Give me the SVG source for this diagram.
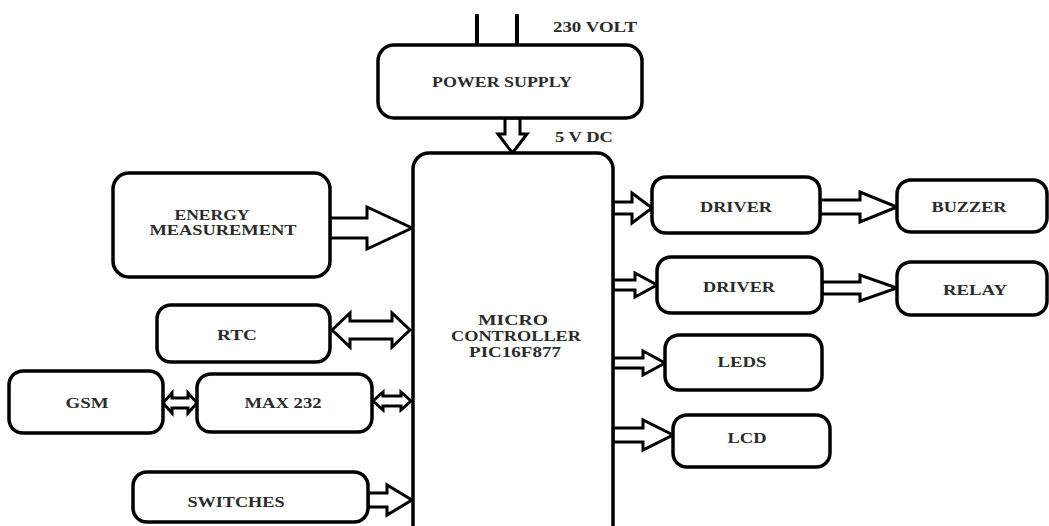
<svg xmlns="http://www.w3.org/2000/svg" width="1049" height="526" viewBox="0 0 1049 526">
<style>
.box{fill:#fff;stroke:#000;stroke-width:3.5}
.arr{fill:#fff;stroke:#000;stroke-width:3;stroke-linejoin:miter}
.lbl{font-family:"Liberation Serif","Times New Roman",serif;font-weight:bold;font-size:14px;fill:#2b2b2b;text-anchor:middle}
.lbl2{font-family:"Liberation Serif","Times New Roman",serif;font-weight:bold;font-size:14px;fill:#2b2b2b}
</style>
<rect width="1049" height="526" fill="#fff"/>
<g id="connectors">
<line x1="477" y1="14" x2="477" y2="46" stroke="#000" stroke-width="4"/>
<line x1="517" y1="14" x2="517" y2="46" stroke="#000" stroke-width="4"/>
<polygon class="arr" points="505,118 520,118 520,134 527,134 512.5,153 498,134 505,134"/>
<polygon class="arr" points="330,218 367,218 367,207 412,228 367,249 367,238 330,238"/>
<polygon class="arr" points="368,493 387,493 387,485 412,500 387,515 387,507 368,507"/>
<polygon class="arr" points="332,330 350,313 350,321 392,321 392,313 410,330 392,347 392,339 350,339 350,347"/>
<polygon class="arr" points="163,403 172,393 172,398 188,398 188,393 197,403 188,413 188,408 172,408 172,413"/>
<polygon class="arr" points="373,401 383,392 383,396 401,396 401,392 411,401 401,410 401,406 383,406 383,410"/>
<polygon class="arr" points="613,202 632,202 632,193 652,208 632,223 632,214 613,214"/>
<polygon class="arr" points="820,200 860,200 860,192 897,207 860,222 860,214 820,214"/>
<polygon class="arr" points="613,280 635,280 635,273 657,285 635,297 635,290 613,290"/>
<polygon class="arr" points="822,282 860,282 860,275 897,288 860,301 860,294 822,294"/>
<polygon class="arr" points="613,358 643,358 643,351 665,363 643,375 643,368 613,368"/>
<polygon class="arr" points="613,428 643,428 643,420 673,435 643,450 643,442 613,442"/>
<text class="lbl2" x="553" y="32" textLength="84" lengthAdjust="spacingAndGlyphs">230 VOLT</text>
<text class="lbl2" x="555" y="142" textLength="58" lengthAdjust="spacingAndGlyphs">5 V DC</text>
</g>
<g id="power-supply">
<rect class="box" x="378" y="45" width="264" height="73" rx="16"/>
<text class="lbl" x="502" y="87" textLength="140" lengthAdjust="spacingAndGlyphs">POWER SUPPLY</text>
</g>
<g id="microcontroller">
<rect class="box" x="413" y="153" width="200" height="420" rx="16"/>
<text class="lbl" x="513" y="325" textLength="70" lengthAdjust="spacingAndGlyphs">MICRO</text>
<text class="lbl" x="516" y="341" textLength="130" lengthAdjust="spacingAndGlyphs">CONTROLLER</text>
<text class="lbl" x="515" y="357" textLength="92" lengthAdjust="spacingAndGlyphs">PIC16F877</text>
</g>
<g id="energy-measurement">
<rect class="box" x="113" y="173" width="217" height="104" rx="16"/>
<text class="lbl" x="212" y="220" textLength="75" lengthAdjust="spacingAndGlyphs">ENERGY</text>
<text class="lbl" x="223" y="235" textLength="147" lengthAdjust="spacingAndGlyphs">MEASUREMENT</text>
</g>
<g id="rtc">
<rect class="box" x="157" y="305" width="173" height="57" rx="14"/>
<text class="lbl" x="237" y="340" textLength="40" lengthAdjust="spacingAndGlyphs">RTC</text>
</g>
<g id="gsm">
<rect class="box" x="9" y="371" width="154" height="62" rx="14"/>
<text class="lbl" x="87" y="408" textLength="43" lengthAdjust="spacingAndGlyphs">GSM</text>
</g>
<g id="max232">
<rect class="box" x="197" y="374" width="175" height="58" rx="14"/>
<text class="lbl" x="283" y="408" textLength="77" lengthAdjust="spacingAndGlyphs">MAX 232</text>
</g>
<g id="switches">
<rect class="box" x="133" y="472" width="235" height="50" rx="14"/>
<text class="lbl" x="236" y="507" textLength="97" lengthAdjust="spacingAndGlyphs">SWITCHES</text>
</g>
<g id="driver1">
<rect class="box" x="652" y="177" width="168" height="56" rx="14"/>
<text class="lbl" x="736" y="212" textLength="72" lengthAdjust="spacingAndGlyphs">DRIVER</text>
</g>
<g id="buzzer">
<rect class="box" x="897" y="180" width="150" height="52" rx="14"/>
<text class="lbl" x="969" y="212" textLength="75" lengthAdjust="spacingAndGlyphs">BUZZER</text>
</g>
<g id="driver2">
<rect class="box" x="657" y="257" width="165" height="56" rx="14"/>
<text class="lbl" x="739" y="292" textLength="72" lengthAdjust="spacingAndGlyphs">DRIVER</text>
</g>
<g id="relay">
<rect class="box" x="897" y="262" width="150" height="53" rx="14"/>
<text class="lbl" x="975" y="295" textLength="64" lengthAdjust="spacingAndGlyphs">RELAY</text>
</g>
<g id="leds">
<rect class="box" x="665" y="335" width="157" height="55" rx="14"/>
<text class="lbl" x="742" y="367" textLength="49" lengthAdjust="spacingAndGlyphs">LEDS</text>
</g>
<g id="lcd">
<rect class="box" x="673" y="415" width="157" height="52" rx="14"/>
<text class="lbl" x="747" y="443" textLength="39" lengthAdjust="spacingAndGlyphs">LCD</text>
</g>
</svg>
